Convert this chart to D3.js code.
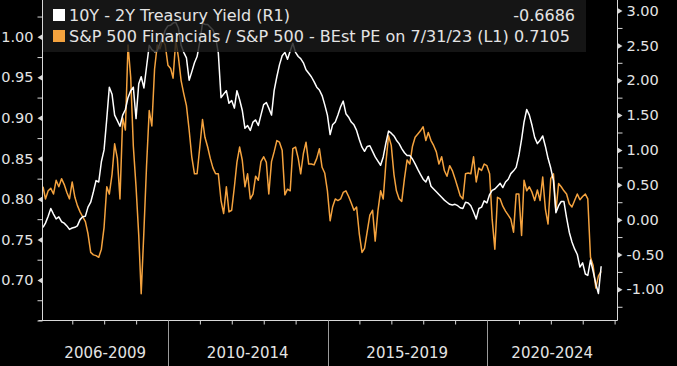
<!DOCTYPE html>
<html><head><meta charset="utf-8">
<script src="https://cdn.jsdelivr.net/npm/d3@7"></script>
<style>
html,body{margin:0;padding:0;background:#000;}
svg{display:block;}
text{font-family:"DejaVu Sans",sans-serif;fill:#e4e4e4;}
</style></head>
<body>
<svg id="chart" width="677" height="366"></svg>
<script>
// ---------- DATA (monthly, month-end, starting Jan 2006) ----------
const firstMonth = "2006-01";
const seriesNames = ["10Y - 2Y Treasury Yield (R1)", "S&P 500 Financials / S&P 500 - BEst PE on 7/31/23 (L1)"];
const lastValues = ["-0.6686", "0.7105"];

// 10Y - 2Y Treasury spread (right axis)
const spread = [
-0.11,-0.05,0.05,0.16,0.08,0.01,0.04,-0.03,-0.05,-0.09,-0.14,-0.12,
-0.11,-0.09,0.00,0.04,0.05,0.18,0.25,0.40,0.56,0.54,0.83,1.00,
1.45,1.90,1.80,1.50,1.42,1.34,1.50,1.58,1.75,1.85,1.90,1.45,
1.95,2.05,1.89,2.19,2.50,2.44,2.41,2.42,2.53,2.60,2.72,2.78,
2.79,2.82,2.83,2.75,2.50,2.40,2.32,2.00,2.12,2.25,2.34,2.55,
2.82,2.80,2.80,2.76,2.72,2.62,2.39,1.75,1.80,1.85,1.67,1.71,
1.60,1.85,1.72,1.57,1.31,1.35,1.28,1.40,1.43,1.35,1.50,1.65,
1.68,1.60,1.50,1.85,2.05,2.22,2.35,2.40,2.30,2.42,2.53,2.40,
2.34,2.31,2.25,2.15,2.10,2.05,1.98,1.90,1.86,1.78,1.65,1.50,
1.22,1.36,1.40,1.50,1.62,1.70,1.52,1.47,1.40,1.36,1.28,1.15,
1.04,0.98,1.05,1.06,0.98,0.90,0.84,0.78,0.90,1.10,1.27,1.24,
1.20,1.14,1.09,1.02,0.96,0.92,0.92,0.87,0.80,0.72,0.65,0.58,
0.54,0.62,0.48,0.44,0.40,0.36,0.32,0.28,0.25,0.22,0.21,0.22,
0.20,0.17,0.16,0.25,0.24,0.20,0.11,0.01,0.16,0.18,0.27,0.24,
0.36,0.42,0.44,0.48,0.52,0.46,0.54,0.58,0.66,0.70,0.75,0.92,
1.15,1.40,1.58,1.50,1.35,1.18,1.09,1.14,1.20,1.05,0.88,0.74,
0.56,0.10,0.20,0.26,0.26,0.03,-0.18,-0.32,-0.42,-0.50,-0.68,-0.62,
-0.78,-0.80,-0.58,-0.74,-0.92,-1.06,-0.6686
];

// S&P 500 Financials / S&P 500 forward PE ratio (left axis)
const peRatio = [
0.815,0.800,0.810,0.813,0.806,0.823,0.815,0.825,0.818,0.808,0.800,0.821,
0.802,0.792,0.784,0.778,0.772,0.757,0.734,0.731,0.730,0.728,0.738,0.765,
0.815,0.806,0.830,0.868,0.850,0.800,0.900,0.885,0.990,0.950,0.865,0.815,
0.755,0.683,0.760,0.840,0.909,0.890,0.960,0.990,0.985,0.996,0.990,0.965,
0.961,0.949,0.996,0.975,0.946,0.930,0.915,0.885,0.852,0.831,0.831,0.864,
0.898,0.876,0.864,0.850,0.838,0.831,0.831,0.798,0.782,0.815,0.784,0.786,
0.815,0.845,0.864,0.848,0.815,0.831,0.800,0.806,0.828,0.823,0.846,0.852,
0.845,0.806,0.846,0.858,0.872,0.870,0.860,0.805,0.812,0.810,0.862,0.864,
0.850,0.831,0.856,0.870,0.843,0.843,0.842,0.850,0.862,0.839,0.832,0.810,
0.773,0.790,0.800,0.798,0.800,0.808,0.810,0.803,0.795,0.786,0.790,0.757,
0.734,0.739,0.760,0.780,0.786,0.748,0.785,0.810,0.800,0.845,0.878,0.866,
0.830,0.810,0.800,0.797,0.825,0.848,0.843,0.865,0.876,0.880,0.884,0.889,
0.872,0.882,0.872,0.866,0.858,0.843,0.852,0.835,0.828,0.841,0.835,0.825,
0.814,0.804,0.800,0.831,0.832,0.831,0.852,0.821,0.838,0.835,0.843,0.841,
0.831,0.775,0.738,0.802,0.800,0.791,0.785,0.780,0.775,0.759,0.806,0.806,
0.755,0.823,0.810,0.815,0.808,0.798,0.811,0.798,0.827,0.787,0.769,0.825,
0.831,0.785,0.819,0.815,0.810,0.806,0.794,0.790,0.798,0.806,0.799,0.803,
0.806,0.800,0.728,0.718,0.690,0.705,0.7105
];

const leftTicks = [0.70, 0.75, 0.80, 0.85, 0.90, 0.95, 1.00];
const rightTicks = [-1.00, -0.50, 0.00, 0.50, 1.00, 1.50, 2.00, 2.50, 3.00];
const periods = [
  {label: "2006-2009", from: 2006, to: 2010},
  {label: "2010-2014", from: 2010, to: 2015},
  {label: "2015-2019", from: 2015, to: 2020},
  {label: "2020-2024", from: 2020, to: 2025}
];
const colors = {spread: "#ffffff", pe: "#f4a23e"};

// ---------- LAYOUT ----------
const svg = d3.select("#chart");
const W = 677, H = 366;
const plot = {left: 42.5, right: 617.5, top: 0, bottom: 320.5};

const parseM = d3.timeParse("%Y-%m");
const start = parseM(firstMonth);
const monthEnd = i => d3.timeDay.offset(d3.timeMonth.offset(start, i + 1), -1);

const x = d3.scaleTime()
  .domain([new Date(2006, 0, 1), new Date(2024, 0, 1)])
  .range([40.4, 614.6]);
const yL = d3.scaleLinear().domain([0.65, 1.0454]).range([plot.bottom, plot.top]);
const yR = d3.scaleLinear().domain([-1.447, 3.151]).range([plot.bottom, plot.top]);

svg.append("rect").attr("width", W).attr("height", H).attr("fill", "#000");

svg.append("clipPath").attr("id", "clip").append("rect")
  .attr("x", plot.left).attr("y", plot.top)
  .attr("width", plot.right - plot.left).attr("height", plot.bottom - plot.top);

const g = svg.append("g").attr("clip-path", "url(#clip)");

const peData = peRatio.map((v, i) => ({d: monthEnd(i), v}));
const spData = spread.map((v, i) => ({d: monthEnd(i), v}));

g.append("path").datum(peData)
  .attr("fill", "none").attr("stroke", colors.pe).attr("stroke-width", 1.5)
  .attr("stroke-linejoin", "round")
  .attr("d", d3.line().x(d => x(d.d)).y(d => yL(d.v)));

g.append("path").datum(spData)
  .attr("fill", "none").attr("stroke", colors.spread).attr("stroke-width", 1.5)
  .attr("stroke-linejoin", "round")
  .attr("d", d3.line().x(d => x(d.d)).y(d => yR(d.v)));

// ---------- AXES ----------
const axisColor = "#d8d8d8";
svg.append("line").attr("x1", plot.left).attr("x2", plot.left)
  .attr("y1", 0).attr("y2", plot.bottom).attr("stroke", axisColor).attr("stroke-width", 1);
svg.append("line").attr("x1", plot.right).attr("x2", plot.right)
  .attr("y1", 0).attr("y2", plot.bottom).attr("stroke", axisColor).attr("stroke-width", 1);
svg.append("line").attr("x1", plot.left - 4).attr("x2", plot.right)
  .attr("y1", plot.bottom).attr("y2", plot.bottom).attr("stroke", axisColor).attr("stroke-width", 1);

const leftMinor = d3.range(0.65, 1.04, 0.025).filter(v => !leftTicks.some(t => Math.abs(t - v) < 1e-6));
const gl = svg.append("g").attr("transform", `translate(${plot.left},0)`)
  .call(d3.axisLeft(yL).tickValues(leftMinor).tickSize(5).tickFormat(""));
gl.select(".domain").remove();
gl.selectAll(".tick line").attr("stroke", axisColor);

const glM = svg.append("g").attr("transform", `translate(${plot.left},0)`)
  .call(d3.axisLeft(yL).tickValues(leftTicks).tickSize(0).tickPadding(9).tickFormat(d3.format(".2f")));
glM.select(".domain").remove();
glM.selectAll(".tick text").attr("font-size", 14.5).attr("fill", "#e4e4e4")
  .attr("font-family", "DejaVu Sans");
glM.selectAll(".tick").append("path").attr("d", "M0,-3L0,3L-5,0Z").attr("fill", axisColor);

const rightMinor = d3.range(-1.25, 3.1, 0.5);
const gr = svg.append("g").attr("transform", `translate(${plot.right},0)`)
  .call(d3.axisRight(yR).tickValues(rightMinor).tickSize(5).tickFormat(""));
gr.select(".domain").remove();
gr.selectAll(".tick line").attr("stroke", axisColor);

const grM = svg.append("g").attr("transform", `translate(${plot.right},0)`)
  .call(d3.axisRight(yR).tickValues(rightTicks).tickSize(0).tickPadding(9).tickFormat(d => d3.format(".2f")(d).replace("−", "-")));
grM.select(".domain").remove();
grM.selectAll(".tick text").attr("font-size", 14.5).attr("fill", "#e4e4e4")
  .attr("font-family", "DejaVu Sans");
grM.selectAll(".tick").append("path").attr("d", "M0,-3L0,3L5,0Z").attr("fill", axisColor);

const yearTicks = d3.range(2007, 2025).filter(y => !periods.some(p => p.from === y))
  .map(y => new Date(y, 0, 1));
const gb = svg.append("g").attr("transform", `translate(0,${plot.bottom})`)
  .call(d3.axisBottom(x).tickValues(yearTicks).tickSize(4).tickFormat(""));
gb.select(".domain").remove();
gb.selectAll(".tick line").attr("stroke", axisColor);

periods.forEach((p, k) => {
  const x0 = Math.max(plot.left, x(new Date(p.from, 0, 1)));
  const x1 = Math.min(plot.right, x(new Date(p.to, 0, 1)));
  if (k > 0) {
    svg.append("line").attr("x1", Math.round(x0) + 0.5).attr("x2", Math.round(x0) + 0.5)
      .attr("y1", plot.bottom).attr("y2", H).attr("stroke", "#9a9a9a").attr("stroke-width", 1);
  }
  svg.append("text").attr("x", (x0 + x1) / 2).attr("y", 358)
    .attr("text-anchor", "middle").attr("font-size", 15).text(p.label);
});

// ---------- LEGEND ----------
const lg = svg.append("g");
lg.append("rect").attr("x", plot.left + 0.5).attr("y", 0).attr("width", 543).attr("height", 52)
  .attr("fill", "#1a1a1a").attr("fill-opacity", 0.82);
const legendRows = [
  {name: seriesNames[0], color: colors.spread, value: lastValues[0], y: 15},
  {name: seriesNames[1], color: colors.pe, value: lastValues[1], y: 36}
];
legendRows.forEach((r, i) => {
  lg.append("rect").attr("x", 53).attr("y", r.y - 6).attr("width", 12).attr("height", 12)
    .attr("fill", r.color);
  const t = lg.append("text").attr("x", 69).attr("y", r.y).attr("dy", "0.36em")
    .attr("font-size", 16).text(r.name);
  if (i === 0) {
    lg.append("text").attr("x", 575).attr("y", r.y).attr("dy", "0.36em")
      .attr("text-anchor", "end").attr("font-size", 16).text(r.value);
  } else {
    t.text(r.name + " " + r.value);
  }
});
</script>
</body></html>
